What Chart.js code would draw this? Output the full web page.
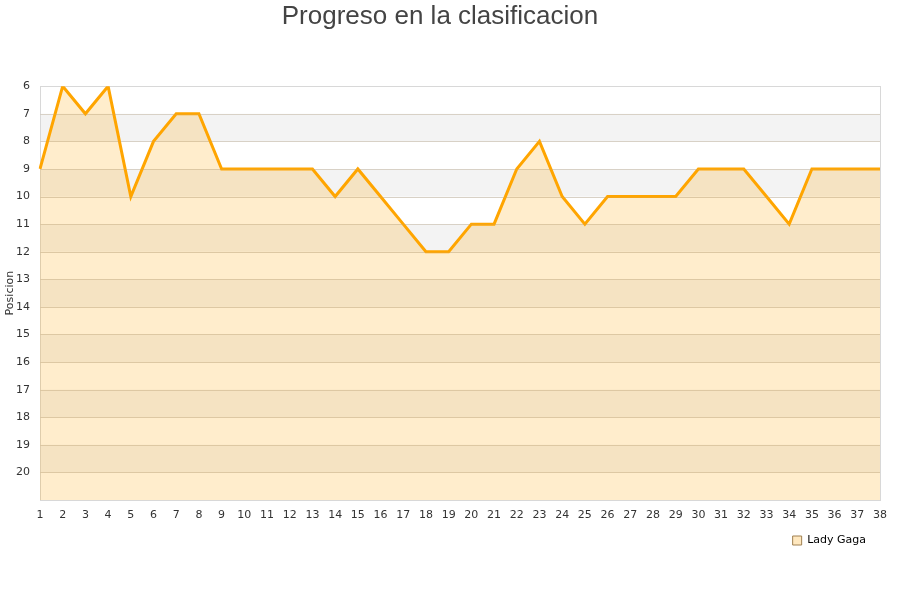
<!DOCTYPE html>
<html><head><meta charset="utf-8">
<script src="https://cdn.jsdelivr.net/npm/chart.js@4"></script>
<style>html,body{margin:0;padding:0;background:#fff}#wrap{width:900px;height:600px}</style>
</head><body><div id="wrap"><canvas id="c" width="900" height="600"></canvas></div>
<script>
const weeks = ["1","2","3","4","5","6","7","8","9","10","11","12","13","14","15","16","17","18","19","20","21","22","23","24","25","26","27","28","29","30","31","32","33","34","35","36","37","38"];
const ladyGaga = [9,6,7,6,10,8,7,7,9,9,9,9,9,10,9,10,11,12,12,11,11,9,8,10,11,10,10,10,10,9,9,9,10,11,9,9,9,9];
const seriesName = "Lady Gaga";
const yMin = 6, yMax = 21;

const bands = {
  id: 'bands',
  beforeDatasetsDraw(chart) {
    const {ctx, chartArea: a, scales: {y}} = chart;
    ctx.save();
    ctx.fillStyle = '#f3f3f3';
    for (let v = yMin + 1; v < yMax; v += 2) {
      const t = y.getPixelForValue(v), b = y.getPixelForValue(v + 1);
      ctx.fillRect(a.left, t, a.right - a.left, b - t);
    }
    ctx.strokeStyle = '#dddddd';
    ctx.lineWidth = 1;
    for (let v = yMin + 1; v < yMax; v++) {
      const p = Math.round(y.getPixelForValue(v)) + 0.5;
      ctx.beginPath(); ctx.moveTo(a.left, p); ctx.lineTo(a.right, p); ctx.stroke();
    }
    ctx.strokeStyle = '#d8d8d8';
    ctx.strokeRect(Math.round(a.left) + 0.5, Math.round(a.top) + 0.5, Math.round(a.right - a.left), Math.round(a.bottom - a.top));
    ctx.restore();
  },
  afterDatasetsDraw(chart) {
    const {ctx, chartArea: a, scales: {y}} = chart;
    ctx.save();
    ctx.strokeStyle = 'rgba(200,170,120,0.22)';
    ctx.lineWidth = 1;
    for (let v = yMin + 1; v < yMax; v++) {
      const p = Math.round(y.getPixelForValue(v)) + 0.5;
      ctx.beginPath(); ctx.moveTo(a.left, p); ctx.lineTo(a.right, p); ctx.stroke();
    }
    ctx.restore();
  }
};

new Chart(document.getElementById('c'), {
  type: 'line',
  data: {
    labels: weeks,
    datasets: [{
      label: seriesName,
      data: ladyGaga,
      borderColor: '#FFA500',
      backgroundColor: 'rgba(255,165,0,0.2)',
      borderWidth: 3,
      pointRadius: 0,
      tension: 0,
      fill: {target: {value: yMax}}
    }]
  },
  options: {
    responsive: false,
    animation: false,
    layout: {padding: {left: 0, right: 20, top: 0, bottom: 44}},
    plugins: {
      title: {
        display: true,
        text: 'Progreso en la clasificacion',
        color: '#444',
        font: {family: 'Liberation Sans', size: 26, weight: 'normal'},
        padding: {top: 1, bottom: 54}
      },
      legend: {
        position: 'bottom',
        align: 'end',
        labels: {
          boxWidth: 9, boxHeight: 9,
          color: '#111',
          font: {family: 'DejaVu Sans', size: 11},
          padding: 14,
          generateLabels(chart) {
            return [{text: seriesName, fillStyle: 'rgba(255,165,0,0.25)', strokeStyle: '#a08050', lineWidth: 1, datasetIndex: 0}];
          }
        }
      },
      tooltip: {enabled: false}
    },
    scales: {
      x: {
        offset: false,
        grid: {display: false, drawTicks: false},
        border: {display: false},
        ticks: {color: '#333', font: {family: 'DejaVu Sans', size: 11}, maxRotation: 0, autoSkip: false, padding: 9},
        afterFit(s) { s.height = 21; }
      },
      y: {
        reverse: true,
        min: yMin, max: yMax,
        grid: {display: false, drawTicks: false},
        border: {display: false},
        ticks: {
          stepSize: 1, color: '#333', font: {family: 'DejaVu Sans', size: 11}, padding: 10,
          callback: (v) => (v >= yMax ? '' : v)
        },
        title: {display: true, text: 'Posicion', color: '#333', font: {family: 'DejaVu Sans', size: 11}, padding: {top: 4, bottom: 0}},
        afterFit(s) { s.width = 40; }
      }
    }
  },
  plugins: [bands]
});
</script></body></html>
